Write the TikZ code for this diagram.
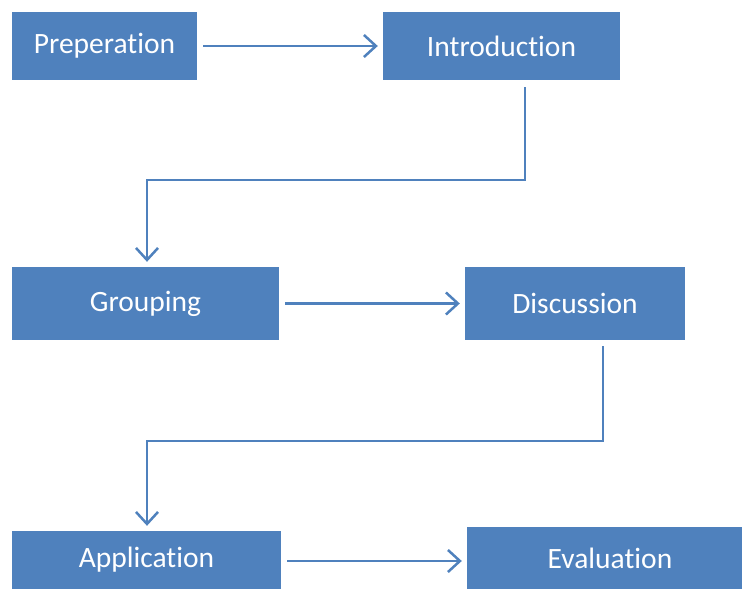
\documentclass[tikz,border=0pt]{standalone}
\usepackage{fontspec}
\setmainfont{Carlito}[Ligatures=NoCommon]
\usetikzlibrary{arrows.meta}
\definecolor{boxblue}{RGB}{79,129,189}

\begin{document}
\begin{tikzpicture}[x=1pt,y=-1pt,
    stage/.style={fill=boxblue, text=white, inner sep=0pt, font=\fontsize{29.5}{34}\selectfont},
    flow/.style={draw=boxblue, line width=2.5pt, -{Straight Barb[length=12pt,width=22pt,line width=2.5pt]}, shorten <=6pt, shorten >=5pt}]
        \useasboundingbox (0,0) rectangle (742,589);
        % stages
        \node[stage, minimum width=185pt, minimum height=68pt] (prep) at (104.5,46) {Preperation};
        \node[stage, minimum width=237pt, minimum height=68pt] (intro) at (501.5,46) {Introduction};
        \node[stage, minimum width=267pt, minimum height=73pt] (group) at (145.5,303.5) {Grouping};
        \node[stage, minimum width=220pt, minimum height=73pt] (disc) at (575,303.5) {Discussion};
        \node[stage, minimum width=269pt, minimum height=58pt] (appl) at (146.5,560) {Application};
        \node[stage, minimum width=286pt, minimum height=62pt] (eval) at (610,558) {Evaluation};
        % connectors
        \draw[flow] (prep.east) -- (intro.west);
        \draw[flow, shorten <=7pt] ([xshift=23.5pt]intro.south) -- ++(0,100) -| ([xshift=1.5pt]group.north);
        \draw[flow] (group.east) -- (disc.west);
        \draw[flow] ([xshift=28pt]disc.south) -- ++(0,101) -| ([xshift=0.5pt]appl.north);
        \draw[flow] ([yshift=-1pt]appl.east) -- ([yshift=-1pt]appl.east -| eval.west);
\end{tikzpicture}
\end{document}
